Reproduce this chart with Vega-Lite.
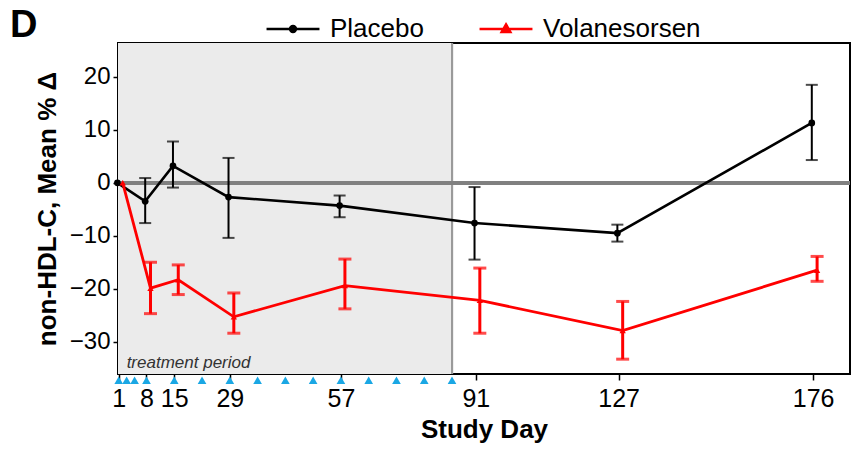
{
  "$schema": "https://vega.github.io/schema/vega-lite/v6.json",
  "width": 732,
  "height": 331,
  "autosize": {"type": "none"},
  "padding": {"left": 118, "top": 43, "right": 3, "bottom": 76},
  "config": {
    "view": {"stroke": "#000000", "strokeWidth": 2},
    "font": "Liberation Sans",
    "axis": {
      "grid": false, "domain": false,
      "labelColor": "#000000", "labelFont": "Liberation Sans",
      "titleColor": "#000000", "titleFont": "Liberation Sans", "titleFontWeight": "bold", "titleFontSize": 26,
      "tickColor": "#000000", "tickWidth": 1.5
    },
    "axisX": {"labelFontSize": 25, "labelPadding": 6, "titlePadding": 5, "tickSize": 6, "labelFlush": false, "labelOverlap": false},
    "axisY": {"labelFontSize": 24, "labelPadding": 3, "titlePadding": 9, "tickSize": 5}
  },
  "datasets": {
    "main": [
      {"group": "Placebo", "day": 1, "mean": 0, "lo": null, "hi": null},
      {"group": "Placebo", "day": 8, "mean": -3.5, "lo": -7.6, "hi": 0.9},
      {"group": "Placebo", "day": 15, "mean": 3.2, "lo": -0.9, "hi": 7.8},
      {"group": "Placebo", "day": 29, "mean": -2.7, "lo": -10.4, "hi": 4.7},
      {"group": "Placebo", "day": 57, "mean": -4.3, "lo": -6.5, "hi": -2.4},
      {"group": "Placebo", "day": 91, "mean": -7.6, "lo": -14.5, "hi": -0.8},
      {"group": "Placebo", "day": 127, "mean": -9.5, "lo": -11.1, "hi": -7.9},
      {"group": "Placebo", "day": 176, "mean": 11.3, "lo": 4.3, "hi": 18.5},
      {"group": "Volanesorsen", "day": 1, "mean": 0, "lo": null, "hi": null},
      {"group": "Volanesorsen", "day": 8, "mean": -19.9, "lo": -24.7, "hi": -15.0},
      {"group": "Volanesorsen", "day": 15, "mean": -18.3, "lo": -21.1, "hi": -15.5},
      {"group": "Volanesorsen", "day": 29, "mean": -25.3, "lo": -28.4, "hi": -20.8},
      {"group": "Volanesorsen", "day": 57, "mean": -19.4, "lo": -23.8, "hi": -14.4},
      {"group": "Volanesorsen", "day": 91, "mean": -22.2, "lo": -28.4, "hi": -16.1},
      {"group": "Volanesorsen", "day": 127, "mean": -27.9, "lo": -33.3, "hi": -22.4},
      {"group": "Volanesorsen", "day": 176, "mean": -16.5, "lo": -18.6, "hi": -13.9}
    ],
    "doses": [
      {"day": 1}, {"day": 3}, {"day": 5}, {"day": 8}, {"day": 15}, {"day": 22},
      {"day": 29}, {"day": 36}, {"day": 43}, {"day": 50}, {"day": 57}, {"day": 64},
      {"day": 71}, {"day": 78}, {"day": 85}
    ]
  },
  "layer": [
    {
      "data": {"name": "main"},
      "mark": {"type": "rect", "color": "#ebebeb"},
      "encoding": {
        "x": {
          "datum": 0.82, "type": "quantitative", "title": "Study Day",
          "scale": {"domain": [0.82, 185.3], "nice": false, "zero": false},
          "axis": {"values": [1, 8, 15, 29, 57, 91, 127, 176], "title": "Study Day"}
        },
        "x2": {"datum": 85}
      }
    },
    {
      "data": {"name": "main"},
      "mark": {"type": "rule", "color": "#9a9a9a", "strokeWidth": 2},
      "encoding": {
        "x": {"datum": 85, "type": "quantitative", "title": "Study Day", "scale": {"domain": [0.82, 185.3], "nice": false, "zero": false}}
      }
    },
    {
      "data": {"name": "main"},
      "mark": {"type": "rule", "color": "#808080", "strokeWidth": 3.5},
      "encoding": {
        "y": {
          "datum": 0, "type": "quantitative", "title": "non-HDL-C, Mean % Δ",
          "scale": {"domain": [-36.1, 26.4], "nice": false, "zero": false},
          "axis": {"values": [-30, -20, -10, 0, 10, 20], "title": "non-HDL-C, Mean % Δ"}
        }
      }
    },
    {
      "data": {"name": "main"},
      "transform": [{"filter": "datum.group === 'Placebo' && datum.lo != null"}],
      "mark": {"type": "rule", "color": "#000000", "strokeWidth": 2, "xOffset": -1.3},
      "encoding": {
        "x": {"field": "day", "type": "quantitative", "title": "Study Day", "scale": {"domain": [0.82, 185.3], "nice": false, "zero": false}},
        "y": {"field": "lo", "type": "quantitative", "title": "non-HDL-C, Mean % Δ", "scale": {"domain": [-36.1, 26.4], "nice": false, "zero": false}},
        "y2": {"field": "hi"}
      }
    },
    {
      "data": {"name": "main"},
      "transform": [{"filter": "datum.group === 'Placebo' && datum.lo != null"}],
      "mark": {"type": "tick", "orient": "horizontal", "color": "#000000", "size": 12, "thickness": 2, "xOffset": -1.3},
      "encoding": {
        "x": {"field": "day", "type": "quantitative", "title": "Study Day", "scale": {"domain": [0.82, 185.3], "nice": false, "zero": false}},
        "y": {"field": "lo", "type": "quantitative", "title": "non-HDL-C, Mean % Δ", "scale": {"domain": [-36.1, 26.4], "nice": false, "zero": false}}
      }
    },
    {
      "data": {"name": "main"},
      "transform": [{"filter": "datum.group === 'Placebo' && datum.lo != null"}],
      "mark": {"type": "tick", "orient": "horizontal", "color": "#000000", "size": 12, "thickness": 2, "xOffset": -1.3},
      "encoding": {
        "x": {"field": "day", "type": "quantitative", "title": "Study Day", "scale": {"domain": [0.82, 185.3], "nice": false, "zero": false}},
        "y": {"field": "hi", "type": "quantitative", "title": "non-HDL-C, Mean % Δ", "scale": {"domain": [-36.1, 26.4], "nice": false, "zero": false}}
      }
    },
    {
      "data": {"name": "main"},
      "transform": [{"filter": "datum.group === 'Placebo'"}],
      "mark": {"type": "line", "color": "#000000", "strokeWidth": 2.6, "xOffset": -1.3},
      "encoding": {
        "x": {"field": "day", "type": "quantitative", "title": "Study Day", "scale": {"domain": [0.82, 185.3], "nice": false, "zero": false}},
        "y": {"field": "mean", "type": "quantitative", "title": "non-HDL-C, Mean % Δ", "scale": {"domain": [-36.1, 26.4], "nice": false, "zero": false}}
      }
    },
    {
      "data": {"name": "main"},
      "transform": [{"filter": "datum.group === 'Placebo'"}],
      "mark": {"type": "point", "shape": "circle", "filled": true, "color": "#000000", "size": 45, "opacity": 1, "xOffset": -1.3},
      "encoding": {
        "x": {"field": "day", "type": "quantitative", "title": "Study Day", "scale": {"domain": [0.82, 185.3], "nice": false, "zero": false}},
        "y": {"field": "mean", "type": "quantitative", "title": "non-HDL-C, Mean % Δ", "scale": {"domain": [-36.1, 26.4], "nice": false, "zero": false}}
      }
    },
    {
      "data": {"name": "main"},
      "transform": [{"filter": "datum.group === 'Volanesorsen' && datum.lo != null"}],
      "mark": {"type": "rule", "color": "#ff0000", "strokeWidth": 3, "xOffset": 4},
      "encoding": {
        "x": {"field": "day", "type": "quantitative", "title": "Study Day", "scale": {"domain": [0.82, 185.3], "nice": false, "zero": false}},
        "y": {"field": "lo", "type": "quantitative", "title": "non-HDL-C, Mean % Δ", "scale": {"domain": [-36.1, 26.4], "nice": false, "zero": false}},
        "y2": {"field": "hi"}
      }
    },
    {
      "data": {"name": "main"},
      "transform": [{"filter": "datum.group === 'Volanesorsen' && datum.lo != null"}],
      "mark": {"type": "tick", "orient": "horizontal", "color": "#ff0000", "size": 13, "thickness": 3, "xOffset": 4},
      "encoding": {
        "x": {"field": "day", "type": "quantitative", "title": "Study Day", "scale": {"domain": [0.82, 185.3], "nice": false, "zero": false}},
        "y": {"field": "lo", "type": "quantitative", "title": "non-HDL-C, Mean % Δ", "scale": {"domain": [-36.1, 26.4], "nice": false, "zero": false}}
      }
    },
    {
      "data": {"name": "main"},
      "transform": [{"filter": "datum.group === 'Volanesorsen' && datum.lo != null"}],
      "mark": {"type": "tick", "orient": "horizontal", "color": "#ff0000", "size": 13, "thickness": 3, "xOffset": 4},
      "encoding": {
        "x": {"field": "day", "type": "quantitative", "title": "Study Day", "scale": {"domain": [0.82, 185.3], "nice": false, "zero": false}},
        "y": {"field": "hi", "type": "quantitative", "title": "non-HDL-C, Mean % Δ", "scale": {"domain": [-36.1, 26.4], "nice": false, "zero": false}}
      }
    },
    {
      "data": {"name": "main"},
      "transform": [{"filter": "datum.group === 'Volanesorsen'"}],
      "mark": {"type": "line", "color": "#ff0000", "strokeWidth": 2.8, "xOffset": 4},
      "encoding": {
        "x": {"field": "day", "type": "quantitative", "title": "Study Day", "scale": {"domain": [0.82, 185.3], "nice": false, "zero": false}},
        "y": {"field": "mean", "type": "quantitative", "title": "non-HDL-C, Mean % Δ", "scale": {"domain": [-36.1, 26.4], "nice": false, "zero": false}}
      }
    },
    {
      "data": {"name": "main"},
      "transform": [{"filter": "datum.group === 'Volanesorsen'"}],
      "mark": {"type": "point", "shape": "triangle-up", "filled": true, "color": "#ff0000", "size": 40, "opacity": 1, "xOffset": 4},
      "encoding": {
        "x": {"field": "day", "type": "quantitative", "title": "Study Day", "scale": {"domain": [0.82, 185.3], "nice": false, "zero": false}},
        "y": {"field": "mean", "type": "quantitative", "title": "non-HDL-C, Mean % Δ", "scale": {"domain": [-36.1, 26.4], "nice": false, "zero": false}}
      }
    },
    {
      "data": {"name": "doses"},
      "mark": {"type": "point", "shape": "triangle-up", "filled": true, "color": "#1aa7e4", "size": 75, "opacity": 1},
      "encoding": {
        "x": {"field": "day", "type": "quantitative", "title": "Study Day", "scale": {"domain": [0.82, 185.3], "nice": false, "zero": false}},
        "y": {"datum": -37.3, "type": "quantitative", "title": "non-HDL-C, Mean % Δ", "scale": {"domain": [-36.1, 26.4], "nice": false, "zero": false}}
      }
    },
    {
      "data": {"values": [{"label": "treatment period"}]},
      "mark": {"type": "text", "font": "Liberation Sans", "fontStyle": "italic", "fontSize": 17, "color": "#333333", "align": "left", "baseline": "alphabetic"},
      "encoding": {
        "text": {"field": "label"},
        "x": {"datum": 3, "type": "quantitative", "title": "Study Day", "scale": {"domain": [0.82, 185.3], "nice": false, "zero": false}},
        "y": {"datum": -35, "type": "quantitative", "title": "non-HDL-C, Mean % Δ", "scale": {"domain": [-36.1, 26.4], "nice": false, "zero": false}}
      }
    },
    {
      "data": {"values": [{"label": "D"}]},
      "mark": {"type": "text", "font": "Liberation Sans", "fontWeight": "bold", "fontSize": 38, "color": "#000000", "align": "left", "baseline": "alphabetic"},
      "encoding": {
        "text": {"field": "label"},
        "x": {"datum": -26.4, "type": "quantitative", "title": "Study Day", "scale": {"domain": [0.82, 185.3], "nice": false, "zero": false}},
        "y": {"datum": 27.5, "type": "quantitative", "title": "non-HDL-C, Mean % Δ", "scale": {"domain": [-36.1, 26.4], "nice": false, "zero": false}}
      }
    },
    {
      "data": {"name": "main"},
      "transform": [{"filter": "datum.day === 1"}],
      "mark": {"type": "point", "filled": true, "opacity": 0},
      "encoding": {
        "x": {"field": "day", "type": "quantitative", "title": "Study Day", "scale": {"domain": [0.82, 185.3], "nice": false, "zero": false}},
        "y": {"field": "mean", "type": "quantitative", "title": "non-HDL-C, Mean % Δ", "scale": {"domain": [-36.1, 26.4], "nice": false, "zero": false}},
        "fill": {
          "field": "group", "type": "nominal",
          "scale": {"domain": ["Placebo", "Volanesorsen"], "range": ["#000000", "#ff0000"]},
          "legend": {"title": null, "orient": "none", "legendX": 147, "legendY": -42, "direction": "horizontal", "columns": 2, "padding": 0, "columnPadding": 50, "symbolSize": 2800, "symbolStrokeWidth": 2.6, "symbolOpacity": 1, "labelFontSize": 26, "labelFont": "Liberation Sans", "labelColor": "#000000", "labelOffset": 9}
        },
        "stroke": {
          "field": "group", "type": "nominal",
          "scale": {"domain": ["Placebo", "Volanesorsen"], "range": ["#000000", "#ff0000"]},
          "legend": {"title": null, "orient": "none", "legendX": 147, "legendY": -42, "direction": "horizontal", "columns": 2, "padding": 0, "columnPadding": 50, "symbolSize": 2800, "symbolStrokeWidth": 2.6, "symbolOpacity": 1, "labelFontSize": 26, "labelFont": "Liberation Sans", "labelColor": "#000000", "labelOffset": 9}
        },
        "shape": {
          "field": "group", "type": "nominal",
          "scale": {"domain": ["Placebo", "Volanesorsen"], "range": ["M-1,0L1,0M-0.11,0A0.11,0.11,0,1,1,0.11,0A0.11,0.11,0,1,1,-0.11,0Z", "M-1,0L1,0M0,-0.17L0.16,0.11L-0.16,0.11Z"]},
          "legend": {"title": null, "orient": "none", "legendX": 147, "legendY": -42, "direction": "horizontal", "columns": 2, "padding": 0, "columnPadding": 50, "symbolSize": 2800, "symbolStrokeWidth": 2.6, "symbolOpacity": 1, "labelFontSize": 26, "labelFont": "Liberation Sans", "labelColor": "#000000", "labelOffset": 9}
        }
      }
    }
  ]
}
